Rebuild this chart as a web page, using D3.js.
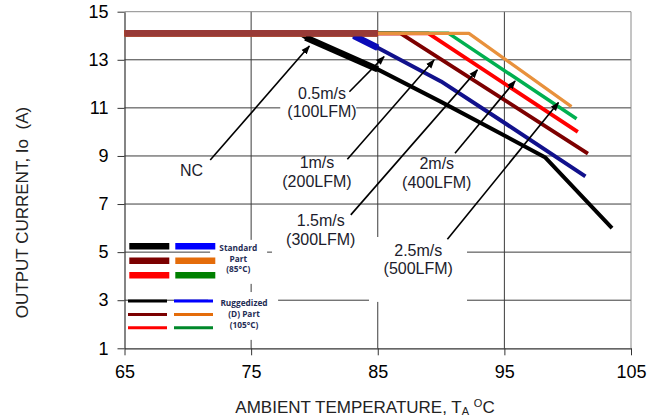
<!DOCTYPE html>
<html>
<head>
<meta charset="utf-8">
<script src="https://cdn.jsdelivr.net/npm/d3@7"></script>
<style>
  html, body { margin: 0; padding: 0; background: #fff; }
  svg { display: block; }
</style>
</head>
<body>
<svg id="chart" width="665" height="419"></svg>
<script>
// ---------- data ----------
const xTicks = [65, 75, 85, 95, 105];
const yTicks = [1, 3, 5, 7, 9, 11, 13, 15];

// Ruggedized (D) part, 105°C — thin curves  [temperature, current]
const ruggedNC   = [[65,14.1],[78.8,14.1],[79.3,13.93],[85,12.6],[90,11.25],[98.2,8.95],[103.5,6.0]];
const rugged05   = [[65,14.1],[82.8,14.1],[83.1,14.0],[85,13.5],[90,12.1],[95,10.38],[101.4,8.15]];
const rugged10   = [[65,14.1],[86.8,14.1],[101.6,9.1]];
const rugged15   = [[65,14.1],[89.0,14.1],[100.8,10.0]];
const rugged20   = [[65,14.1],[90.6,14.1],[100.7,10.55]];
const rugged25   = [[65,14.1],[92.2,14.1],[100.3,11.05]];

// Standard part, 85°C — thick curves
const standardNC = [[79.3,13.93],[85,12.6]];
const standard05 = [[83.1,14.0],[85,13.5]];
const standard10 = [[65,14.1],[85,14.1]];
const standard15 = [[65,14.1],[85,14.1]];
const standard20 = [[65,14.1],[85,14.1]];
const standard25 = [[65,14.1],[85,14.1]];

// airflow annotations: label lines, label anchor (x,y) and arrow tail -> head
const annLabels = [["NC"],["0.5m/s","(100LFM)"],["1m/s","(200LFM)"],["1.5m/s","(300LFM)"],["2m/s","(400LFM)"],["2.5m/s","(500LFM)"]];
const annAnchor = [[70.3,8.42],[80.6,11.62],[80.2,8.74],[80.5,6.30],[89.66,8.67],[88.2,5.09]];
const annArrows = [[[71.77,8.83],[79.6,13.57]],[[82.76,11.67],[85.5,13.13]],[[82.6,8.86],[89.45,12.99]],
                   [[82.87,6.55],[92.87,12.58]],[[91.1,9.11],[95.85,12.12]],[[90.5,5.54],[99.27,11.22]]];
// white label backgrounds that interrupt the grid [x0,y0,x1,y1]
const maskBoxes = [[77.3,11.96,83.3,10.46],[76.65,6.84,84.31,4.59],[84.31,5.63,92.05,2.93],
                   [71.76,5.51,76.26,3.68],[71.6,3.34,77.13,1.35]];

const legendStdText = ["Standard","Part","(85°C)"];
const legendRugText = ["Ruggedized","(D) Part","(105°C)"];

// ---------- chart ----------
const svg = d3.select("#chart");
const x = d3.scaleLinear().domain([65,105]).range([124.5,631]);
const y = d3.scaleLinear().domain([1,15]).range([348.3,11.7]);

// grid
const g = svg.append("g");
g.selectAll("line.h").data(yTicks.filter(v => v > 1 && v < 15)).enter().append("line")
  .attr("x1", x(65)).attr("x2", x(105)).attr("y1", d => y(d)).attr("y2", d => y(d))
  .attr("stroke", "#3c3c3c").attr("stroke-width", 1);
g.selectAll("line.v").data(xTicks.filter(v => v > 65 && v < 105)).enter().append("line")
  .attr("x1", d => x(d)).attr("x2", d => x(d)).attr("y1", y(15)).attr("y2", y(1))
  .attr("stroke", "#3c3c3c").attr("stroke-width", 1);
// top & right border
g.append("line").attr("x1", x(65)).attr("x2", x(105)).attr("y1", y(15)).attr("y2", y(15)).attr("stroke", "#8a8a8a");
g.append("line").attr("x1", x(105)).attr("x2", x(105)).attr("y1", y(15)).attr("y2", y(1)).attr("stroke", "#8a8a8a");

// masks
svg.append("g").selectAll("rect").data(maskBoxes).enter().append("rect")
  .attr("x", d => x(d[0])).attr("y", d => y(d[1]))
  .attr("width", d => x(d[2]) - x(d[0])).attr("height", d => y(d[3]) - y(d[1]))
  .attr("fill", "#fff");

// axes
const yAxis = svg.append("g").attr("transform", `translate(${x(65)},0)`)
  .call(d3.axisLeft(y).tickValues(yTicks).tickSize(7).tickSizeOuter(0).tickPadding(9));
const xAxis = svg.append("g").attr("transform", `translate(0,${y(1)})`)
  .call(d3.axisBottom(x).tickValues(xTicks).tickSize(7).tickSizeOuter(0).tickPadding(10));
[yAxis, xAxis].forEach(a => {
  a.selectAll("path.domain").attr("stroke", "#333").attr("stroke-width", 1.2);
  a.selectAll(".tick line").attr("stroke", "#333");
  a.selectAll("text").attr("font-family", "Arial, 'Liberation Sans', sans-serif")
    .attr("font-size", 18).attr("fill", "#000");
});

// curves
const line = d3.line().x(d => x(d[0])).y(d => y(d[1]));
const ruggedSeries = [
  {d: ruggedNC, c: "#000000", w: 4},
  {d: rugged05, c: "#11118c", w: 4},
  {d: rugged10, c: "#7d0000", w: 3.8},
  {d: rugged15, c: "#ff0000", w: 3.8},
  {d: rugged20, c: "#00b050", w: 3.5},
  {d: rugged25, c: "#e8913c", w: 3.2}
];
const standardSeries = [
  {d: standard25, c: "#e8913c"},
  {d: standard20, c: "#00b050"},
  {d: standard15, c: "#ff0000"},
  {d: standardNC, c: "#000000"},
  {d: standard05, c: "#0a0ab8"},
  {d: standard10, c: "#983a37"}
];
svg.append("g").selectAll("path").data(ruggedSeries).enter().append("path")
  .attr("d", s => line(s.d)).attr("fill", "none").attr("stroke", s => s.c)
  .attr("stroke-width", s => s.w).attr("stroke-linejoin", "round");
svg.append("g").selectAll("path").data(standardSeries).enter().append("path")
  .attr("d", s => line(s.d)).attr("fill", "none").attr("stroke", s => s.c)
  .attr("stroke-width", 6.5).attr("stroke-linejoin", "round");

// arrows
svg.append("defs").append("marker").attr("id", "ah")
  .attr("viewBox", "0 0 10 10").attr("refX", 9).attr("refY", 5)
  .attr("markerWidth", 9).attr("markerHeight", 9).attr("markerUnits", "userSpaceOnUse")
  .attr("orient", "auto")
  .append("path").attr("d", "M0,1.2 L10,5 L0,8.8 Z").attr("fill", "#000");
svg.append("g").selectAll("line").data(annArrows).enter().append("line")
  .attr("x1", d => x(d[0][0])).attr("y1", d => y(d[0][1]))
  .attr("x2", d => x(d[1][0])).attr("y2", d => y(d[1][1]))
  .attr("stroke", "#000").attr("stroke-width", 1.6).attr("marker-end", "url(#ah)");

// labels
const lab = svg.append("g").attr("font-family", "Arial, 'Liberation Sans', sans-serif")
  .attr("font-size", 16).attr("fill", "#1c1c2c").attr("text-anchor", "middle");
annLabels.forEach((lines, i) => {
  lines.forEach((t, j) => {
    lab.append("text").attr("x", x(annAnchor[i][0])).attr("y", y(annAnchor[i][1]) + j * 18.7)
      .attr("dy", "0.35em").text(t);
  });
});

// legend
const legColors = [["#000000","#0000ff"],["#7b0000","#e46c0a"],["#ff0000","#008000"]];
const legColorsR = [["#000000","#0000ff"],["#7b0000","#e46c0a"],["#ff0000","#00882a"]];
const leg = svg.append("g");
legColors.forEach((row, r) => row.forEach((c, k) => {
  leg.append("line").attr("x1", 129.3 + k * 46).attr("x2", 169.3 + k * 46)
    .attr("y1", 246.3 + r * 14.5).attr("y2", 246.3 + r * 14.5)
    .attr("stroke", c).attr("stroke-width", 6.5);
}));
legColorsR.forEach((row, r) => row.forEach((c, k) => {
  leg.append("line").attr("x1", 128 + k * 46).attr("x2", 167 + k * 46)
    .attr("y1", 301 + r * 13.4).attr("y2", 301 + r * 13.4)
    .attr("stroke", c).attr("stroke-width", 3);
}));
const lt = leg.append("g").attr("font-family", "'Open Sans', sans-serif").attr("font-weight", 700)
  .attr("font-size", 8.3).attr("fill", "#1f2d55").attr("text-anchor", "middle");
legendStdText.forEach((t, i) => lt.append("text").attr("x", 238.3).attr("y", 248.3 + i * 10.6).attr("dy", "0.35em").text(t));
legendRugText.forEach((t, i) => lt.append("text").attr("x", 244).attr("y", 302.7 + i * 11).attr("dy", "0.35em").text(t));

// axis titles
const xt = svg.append("text").attr("x", 365).attr("y", 413).attr("text-anchor", "middle")
  .attr("font-family", "'Liberation Sans', Arial, sans-serif").attr("font-size", 17).attr("fill", "#222");
xt.append("tspan").text("AMBIENT TEMPERATURE, T");
xt.append("tspan").attr("font-size", 11).attr("dy", 2).text("A");
xt.append("tspan").attr("dy", -2).text(" ");
xt.append("tspan").attr("font-size", 11).attr("dy", -6).text("O");
xt.append("tspan").attr("dy", 6).text("C");

svg.append("text").attr("transform", "translate(22,212.5) rotate(-90)").attr("text-anchor", "middle")
  .attr("dy", "0.35em").attr("font-family", "Arial, 'Liberation Sans', sans-serif")
  .attr("font-size", 17).attr("fill", "#222").attr("xml:space", "preserve").text("OUTPUT CURRENT, Io  (A)");
</script>
</body>
</html>
